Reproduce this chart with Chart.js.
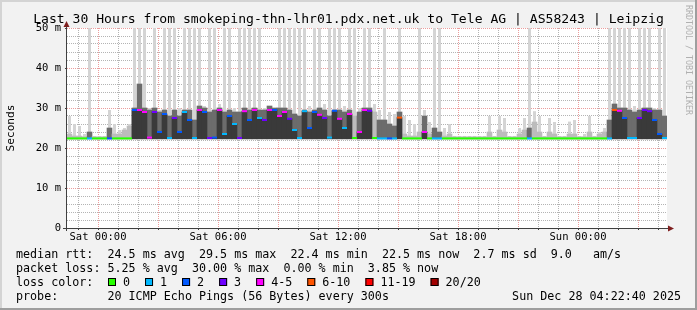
<!DOCTYPE html>
<html>
<head>
<meta charset="utf-8">
<script src="https://cdn.jsdelivr.net/npm/chart.js@4.4.1/dist/chart.umd.min.js"></script>
<style>
  html, body { margin: 0; padding: 0; background: #f2f2f2; }
  canvas { display: block; }
</style>
</head>
<body>
<canvas id="smoke" width="697" height="310"></canvas>
<script>
// 15 min samples over 30 h, first one centred at Fri 22:34 (x is hours from Sat 00:00)
const firstSample = -1.425;
const sampleStep = 0.25;

const medianRtt = [
  22.4, 22.4, 22.4, 22.4, 22.4, 22.4, 22.4, 22.4, 22.4, 22.4,
  22.4, 22.4, 22.4, 29.5, 29.5, 29.0, 22.6, 29.0, 24.0, 28.5,
  22.5, 27.5, 24.0, 29.0, 27.0, 22.5, 29.5, 29.0, 22.5, 22.6,
  29.5, 23.5, 28.0, 26.0, 22.5, 29.2, 27.0, 29.5, 27.5, 27.0,
  29.5, 29.5, 28.0, 29.0, 27.3, 24.5, 22.5, 29.2, 25.0, 29.0,
  28.3, 27.5, 22.6, 29.3, 27.3, 25.0, 28.5, 22.5, 24.0, 29.5,
  29.3, 22.5, 22.4, 22.4, 22.4, 22.4, 27.6, 22.4, 22.4, 22.4,
  22.4, 24.0, 22.4, 22.4, 22.4, 22.4, 22.4, 22.4, 22.4, 22.4,
  22.4, 22.4, 22.4, 22.4, 22.4, 22.4, 22.4, 22.4, 22.4, 22.4,
  22.4, 22.4, 22.4, 22.4, 22.4, 22.4, 22.4, 22.4, 22.4, 22.4,
  22.4, 22.4, 22.4, 22.4, 22.4, 22.4, 22.4, 22.4, 22.4, 29.5,
  29.3, 27.5, 22.5, 22.5, 27.5, 29.5, 29.2, 27.0, 23.5, 22.5
];

// lost pings out of 20
const lostPings = [
  0, 0, 0, 0, 1, 0, 0, 0, 2, 0,
  0, 0, 0, 2, 5, 4, 4, 3, 2, 2,
  1, 3, 2, 1, 2, 1, 5, 2, 3, 2,
  5, 1, 2, 1, 3, 5, 2, 5, 1, 3,
  4, 2, 5, 4, 3, 1, 1, 1, 2, 2,
  4, 3, 1, 2, 4, 1, 4, 0, 4, 4,
  3, 0, 1, 1, 2, 1, 6, 0, 0, 0,
  0, 4, 0, 1, 1, 0, 0, 0, 0, 0,
  0, 0, 0, 0, 0, 0, 0, 0, 0, 0,
  0, 0, 1, 0, 0, 0, 0, 0, 0, 0,
  0, 0, 0, 0, 0, 0, 0, 0, 1, 6,
  5, 2, 1, 1, 3, 3, 3, 2, 2, 1
];

// slowest ping of each sample (clipped at the top of the graph)
const smokeMax = [
  28, 26, 25.5, 23.5, 50, 23, 23, 23, 29.5, 26,
  24.5, 25, 26, 50, 50, 50, 30, 50, 29.5, 50,
  50, 50, 30, 50, 50, 50, 50, 30.5, 50, 50,
  31, 50, 50, 30, 50, 50, 50, 50, 50, 30,
  30.5, 30, 50, 50, 50, 50, 50, 50, 30.5, 50,
  50, 31, 50, 50, 50, 30.5, 50, 50, 30, 50,
  50, 31, 29.5, 50, 29, 28.5, 50, 28, 27, 26,
  50, 29.5, 26.5, 50, 50, 25, 26, 23, 23, 23,
  23, 23, 23, 23, 28, 23, 28, 27.5, 23, 23,
  25, 27.5, 50, 29.2, 28, 23, 27.5, 26.5, 23, 23,
  26.6, 27, 23, 23.5, 28, 23, 24, 25, 50, 50,
  50, 50, 50, 30.5, 50, 50, 50, 30, 50, 50
];

// top of the dense part of the smoke
const smokeBand = [
  23.5, 23, 23, 22.8, 24, 22.8, 22.8, 22.8, 25, 23.5,
  23.5, 24.5, 25.5, 30, 36, 30, 29.5, 30, 29, 29.5,
  28, 29.5, 28, 29.5, 29.5, 27, 30.5, 30, 29, 29.5,
  30, 29, 29.5, 29, 29, 30, 29.5, 30, 29.5, 29.5,
  30.5, 30, 30, 30, 29.5, 28.5, 28, 29.5, 29, 29.5,
  30, 29.5, 28, 29.5, 29.5, 29, 29.5, 28, 29, 30,
  30, 29, 27, 27, 26, 25.5, 29, 23.5, 23, 23,
  24, 28, 23.5, 25, 24, 23, 23.5, 22.8, 22.8, 22.8,
  22.8, 22.8, 22.8, 22.8, 24, 22.8, 24.5, 24, 22.8, 22.8,
  23.5, 24.5, 25, 26.5, 24, 22.8, 24, 23.5, 22.8, 22.8,
  23.5, 23.5, 22.8, 22.8, 24, 22.8, 23.5, 24, 27, 31,
  30, 30, 29.5, 29, 29.5, 30, 30, 29.5, 29.5, 28
];

const minRtt = 22.3;

const hourTicks = [0, 6, 12, 18, 24];
const hourLabels = ['Sat 00:00', 'Sat 06:00', 'Sat 12:00', 'Sat 18:00', 'Sun 00:00'];
const msTicks = [0, 10, 20, 30, 40, 50];
const msLabels = ['0', '10 m', '20 m', '30 m', '40 m', '50 m'];

const lossLabels = ['0', '1', '2', '3', '4-5', '6-10', '11-19', '20/20'];
const lossUpper = [0, 1, 2, 3, 5, 10, 19, 20];
const lossColors = ['#26ff00', '#00b8ff', '#0059ff', '#6e00ff', '#ff00ff', '#ff5500', '#ff0000', '#a10000'];

const W = 697, H = 310;
const mono = "'DejaVu Sans Mono', monospace";
const minorGrid = '#b4b4b4';
const majorGrid = '#ec9c9c';

const titleText = 'Last 30 Hours from smokeping-thn-lhr01.pdx.net.uk to Tele AG | AS58243 | Leipzig';
const rttLine = 'median rtt:  24.5 ms avg  29.5 ms max  22.4 ms min  22.5 ms now  2.7 ms sd  9.0   am/s';
const lossLine = 'packet loss: 5.25 % avg  30.00 % max  0.00 % min  3.85 % now';
const probeLine = 'probe:       20 ICMP Echo Pings (56 Bytes) every 300s';
const stampText = 'Sun Dec 28 04:22:40 2025';

function lossColor(n) {
  for (let k = 0; k < lossUpper.length; k++) {
    if (n <= lossUpper[k]) return lossColors[k];
  }
  return lossColors[lossColors.length - 1];
}

const times = medianRtt.map((_, i) => firstSample + i * sampleStep);
const gridHours = Array.from({length: 30}, (_, i) => i - 1);
const gridMs = Array.from({length: 26}, (_, i) => i * 2);

const smokeAll = smokeMax.map((v, i) => ({x: times[i], y: [minRtt, v]}));
const smokeDense = smokeBand.map((v, i) => ({x: times[i], y: [minRtt, v]}));
const smokeCore = medianRtt.map((v, i) => ({x: times[i], y: [minRtt, v]}));
const medianPts = medianRtt.map((v, i) => ({x: times[i], y: v}));

const rrdLook = {
  id: 'rrdLook',
  beforeDraw(chart) {
    const {ctx, chartArea: a} = chart;
    ctx.save();
    ctx.fillStyle = '#f2f2f2';
    ctx.fillRect(0, 0, W, H);
    ctx.fillStyle = '#ffffff';
    ctx.fillRect(a.left, a.top, a.right - a.left, a.bottom - a.top);
    ctx.restore();
  },
  afterDraw(chart) {
    const {ctx, chartArea: a} = chart;
    ctx.save();

    // axes with their arrows
    ctx.strokeStyle = '#404040';
    ctx.lineWidth = 1;
    ctx.beginPath();
    ctx.moveTo(a.left - 0.5, a.bottom + 3);
    ctx.lineTo(a.left - 0.5, a.top - 3);
    ctx.moveTo(a.left - 4, a.bottom + 0.5);
    ctx.lineTo(a.right + 2, a.bottom + 0.5);
    ctx.stroke();
    ctx.fillStyle = '#7f1f1f';
    ctx.beginPath();
    ctx.moveTo(a.left - 0.5, a.top - 7);
    ctx.lineTo(a.left - 3.5, a.top - 1);
    ctx.lineTo(a.left + 2.5, a.top - 1);
    ctx.closePath();
    ctx.fill();
    ctx.beginPath();
    ctx.moveTo(a.right + 7, a.bottom + 0.5);
    ctx.lineTo(a.right + 1, a.bottom - 2.5);
    ctx.lineTo(a.right + 1, a.bottom + 3.5);
    ctx.closePath();
    ctx.fill();

    // title
    ctx.fillStyle = '#000';
    ctx.font = '13.1px ' + mono;
    ctx.textAlign = 'center';
    ctx.textBaseline = 'middle';
    ctx.fillText(titleText, W / 2, 19.5);

    // legend rows
    ctx.font = '11.7px ' + mono;
    ctx.textAlign = 'left';
    ctx.fillText(rttLine, 16, 254.5);
    ctx.fillText(lossLine, 16, 268.5);
    ctx.fillText('loss color:', 16, 282.5);
    ctx.fillText(probeLine, 16, 296.5);
    ctx.textAlign = 'right';
    ctx.fillText(stampText, 681, 296.5);

    ctx.textAlign = 'left';
    let bx = 108;
    lossLabels.forEach((lab, k) => {
      ctx.fillStyle = lossColors[k];
      ctx.fillRect(bx, 278, 8, 8);
      ctx.strokeStyle = '#000';
      ctx.strokeRect(bx + 0.5, 278.5, 7, 7);
      ctx.fillStyle = '#000';
      ctx.fillText(lab, bx + 15, 282.5);
      bx += 15 + ctx.measureText(lab).width + 15;
    });

    // watermark on the right
    ctx.save();
    ctx.translate(688, 5);
    ctx.rotate(Math.PI / 2);
    ctx.font = '8.3px ' + mono;
    ctx.fillStyle = '#b0b0b0';
    ctx.textAlign = 'left';
    ctx.textBaseline = 'middle';
    ctx.fillText('RRDTOOL / TOBI OETIKER', 0, 0);
    ctx.restore();

    // 3d frame
    ctx.fillStyle = '#d4d4d4';
    ctx.fillRect(0, 0, W, 2);
    ctx.fillRect(0, 0, 2, H);
    ctx.fillStyle = '#9e9e9e';
    ctx.fillRect(0, H - 2, W, 2);
    ctx.fillRect(W - 2, 0, 2, H);
    ctx.restore();
  }
};

const barBase = {type: 'bar', grouped: false, barPercentage: 1, categoryPercentage: 1, borderWidth: 0};

const chart = new Chart(document.getElementById('smoke'), {
  type: 'bar',
  data: {
    datasets: [
      {
        type: 'line',
        label: 'median rtt',
        data: medianPts,
        showLine: false,
        pointStyle: 'line',
        pointRadius: 2.5,
        pointHoverRadius: 2.5,
        pointBorderWidth: 2,
        pointBorderColor: c => lossColor(lostPings[c.dataIndex]),
        order: 0
      },
      Object.assign({label: 'core', data: smokeCore, backgroundColor: '#3a3a3a', order: 1}, barBase),
      Object.assign({label: 'band', data: smokeDense, order: 2,
        backgroundColor: c => lostPings[c.dataIndex] > 0 ? '#6c6c6c' : '#bcbcbc'}, barBase),
      Object.assign({label: 'smoke', data: smokeAll, backgroundColor: '#d4d4d4', order: 3}, barBase, {barPercentage: 0.6})
    ]
  },
  options: {
    responsive: false,
    animation: false,
    devicePixelRatio: 1,
    layout: {padding: {top: 28, right: 30, bottom: 0, left: 0}},
    plugins: {legend: {display: false}, tooltip: {enabled: false}},
    scales: {
      x: {
        type: 'linear',
        min: -1.55,
        max: 28.45,
        offset: false,
        afterBuildTicks: axis => { axis.ticks = gridHours.map(v => ({value: v})); },
        afterFit: s => { s.height = 82; },
        grid: {
          offset: false,
          color: c => c.tick.value % 3 === 0 ? majorGrid : minorGrid,
          tickLength: 2,
          tickColor: '#404040'
        },
        border: {display: false, dash: [1, 1]},
        ticks: {
          autoSkip: false,
          maxRotation: 0,
          padding: 1,
          color: '#000',
          font: {family: mono, size: 10.5},
          callback: v => {
            const k = hourTicks.indexOf(v);
            return k < 0 ? '' : hourLabels[k];
          }
        }
      },
      y: {
        min: 0,
        max: 50,
        afterBuildTicks: axis => { axis.ticks = gridMs.map(v => ({value: v})); },
        afterFit: s => { s.width = 67; },
        grid: {
          color: c => c.tick.value === 0 ? 'rgba(0,0,0,0)' : (c.tick.value % 10 === 0 ? majorGrid : minorGrid),
          tickLength: 2,
          tickColor: c => c.tick.value % 10 === 0 ? '#404040' : 'rgba(0,0,0,0)'
        },
        border: {display: false, dash: [1, 1]},
        ticks: {
          autoSkip: false,
          padding: 4,
          color: '#000',
          font: {family: mono, size: 10.5},
          callback: v => {
            const k = msTicks.indexOf(v);
            return k < 0 ? '' : msLabels[k];
          }
        },
        title: {
          display: true,
          text: 'Seconds',
          color: '#000',
          font: {family: mono, size: 11.2},
          padding: {top: 4, bottom: 0}
        }
      }
    }
  },
  plugins: [rrdLook]
});
</script>
</body>
</html>
